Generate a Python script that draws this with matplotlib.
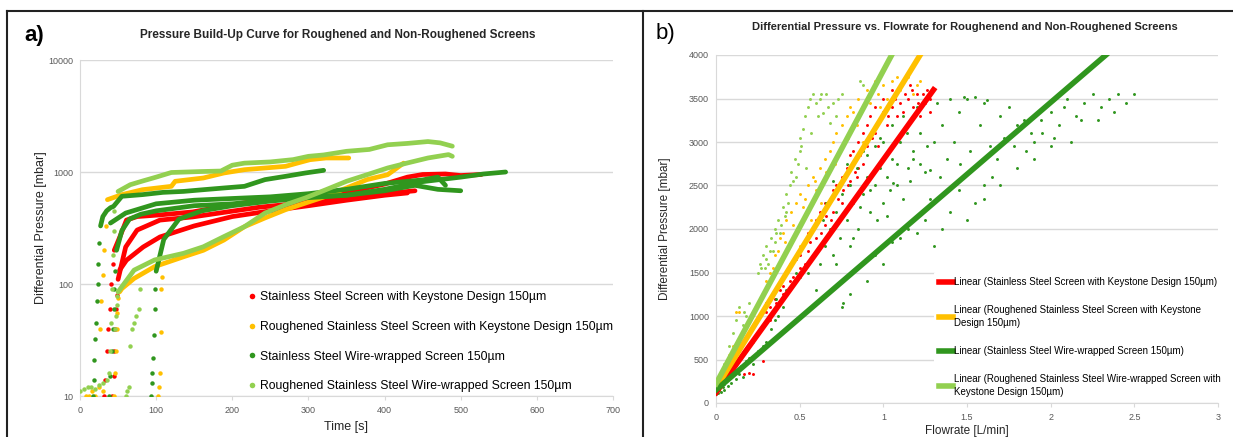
import matplotlib
matplotlib.use('Agg')
import matplotlib.pyplot as plt
from matplotlib.lines import Line2D
from matplotlib.ticker import FixedLocator, NullLocator

plt.rcParams['font.family'] = ['Liberation Sans', 'DejaVu Sans']

RED = '#FF0000'
ORANGE = '#FFC000'
DGREEN = '#30961E'
LGREEN = '#92D050'
GRID = '#D9D9D9'
TICK = '#595959'

# ---------------- panel a: pressure build-up (time [s], dp [mbar]) ----------------
# each run: steep rise (sparse dots) + build-up body
red1_rise_t = [31, 33, 35, 37, 39, 41, 43]
red1_rise_p = [10, 14, 25, 40, 60, 100, 150]
red1_t = [45, 52, 61, 75, 105, 148, 193, 236, 280, 320, 360, 400, 430, 450, 480, 500, 527]
red1_p = [200, 260, 372, 400, 414, 440, 500, 560, 590, 620, 680, 780, 900, 950, 960, 930, 950]

red2_rise_t = [42, 44, 45, 46, 47, 48]
red2_rise_p = [10, 15, 25, 40, 60, 80]
red2_t = [50, 60, 75, 105, 148, 193, 236, 280, 320, 360, 400, 440]
red2_p = [110, 214, 303, 372, 397, 440, 485, 520, 560, 600, 640, 680]

red3_t = [52, 61, 83, 105, 150, 200, 250, 300, 350, 400, 430]
red3_p = [133, 163, 214, 263, 330, 400, 450, 500, 560, 620, 650]

or1_base_t = [8, 12, 16, 20, 25, 30]
or1_base_p = [10, 10, 11, 10, 12, 11]
or1_rise_t = [26, 28, 30, 32, 34]
or1_rise_p = [40, 70, 120, 200, 330]
or1_t = [36, 55, 82, 120, 125, 162, 189, 216, 243, 270, 286, 302, 323, 353]
or1_p = [566, 628, 695, 745, 826, 884, 980, 1049, 1086, 1124, 1204, 1288, 1334, 1334]

or2_rise_t = [44, 46, 47, 48, 49, 50]
or2_rise_p = [10, 16, 25, 40, 55, 75]
or2_t = [52, 55, 71, 98, 136, 162, 189, 216, 243, 270, 323, 377, 404, 425]
or2_p = [85, 91, 112, 143, 175, 200, 247, 325, 389, 461, 607, 855, 946, 1200]

or3_rise_t = [103, 104, 105, 106, 107, 108]
or3_rise_p = [10, 12, 16, 37, 90, 116]

dg1_rise_t = [17, 18, 19, 20, 21, 22, 23, 24, 25]
dg1_rise_p = [10, 14, 21, 32, 45, 70, 100, 150, 230]
dg1_t = [27, 30, 35, 40, 44, 55, 82, 109, 136, 162, 189, 216, 243, 270, 296, 320]
dg1_p = [330, 400, 450, 480, 493, 607, 628, 658, 671, 695, 720, 745, 855, 915, 980, 1035]

dg2_rise_t = [38, 40, 42, 43, 44, 45, 46]
dg2_rise_p = [10, 15, 25, 40, 60, 90, 130]
dg2_t = [48, 55, 65, 80, 100, 150, 200, 250, 300, 350, 400, 450, 500, 530, 559]
dg2_p = [200, 300, 380, 420, 450, 500, 520, 560, 600, 620, 700, 820, 900, 960, 1000]

dg3_rise_t = [93, 94, 95, 96, 97, 98, 99]
dg3_rise_p = [10, 13, 16, 22, 35, 60, 90]
dg3_t = [100, 110, 130, 160, 200, 250, 300, 350, 400, 440, 470, 500]
dg3_p = [130, 250, 380, 450, 500, 550, 590, 620, 680, 760, 700, 680]

dg4_t = [40, 60, 100, 150, 200, 250, 300, 350, 400, 450, 470, 480]
dg4_p = [350, 430, 520, 560, 580, 600, 640, 700, 790, 850, 900, 760]

lg1_base_t = [0, 5, 10, 15, 20, 25, 30, 35, 38]
lg1_base_p = [11, 11.5, 12, 12, 11.5, 12.5, 13, 14, 16]
lg1_rise_t = [40, 41, 42, 43, 44, 45]
lg1_rise_p = [25, 45, 90, 180, 300, 450]
lg1_t = [50, 66, 82, 100, 120, 160, 185, 200, 216, 250, 280, 300, 320, 350, 380, 404, 430, 457, 473, 489]
lg1_p = [670, 770, 830, 900, 990, 1010, 1020, 1150, 1200, 1230, 1290, 1380, 1420, 1530, 1590, 1750, 1800, 1870, 1820, 1700]

lg2_rise_t = [46, 47, 48, 49]
lg2_rise_p = [40, 52, 65, 78]
lg2_t = [50, 71, 98, 136, 162, 189, 216, 243, 270, 296, 323, 350, 377, 404, 430, 457, 484, 489]
lg2_p = [85, 133, 164, 188, 215, 265, 325, 430, 510, 587, 695, 826, 946, 1086, 1204, 1334, 1430, 1380]

lg3_rise_t = [60, 62, 64, 66, 68, 71, 74, 77, 79]
lg3_rise_p = [10, 11, 12, 28, 40, 45, 52, 60, 91]

legend_a = ['Stainless Steel Screen with Keystone Design 150µm',
            'Roughened Stainless Steel Screen with Keystone Design 150µm',
            'Stainless Steel Wire-wrapped Screen 150µm',
            'Roughened Stainless Steel Wire-wrapped Screen 150µm']

# ---------------- panel b: dp vs flowrate ----------------
red_q = [0.02, 0.05, 0.08, 0.10, 0.17, 0.20, 0.22, 0.28, 0.30, 0.32, 0.35, 0.38, 0.40, 0.42,
         0.45, 0.48, 0.50, 0.52, 0.55, 0.55, 0.58, 0.60, 0.60, 0.62, 0.65, 0.65, 0.68, 0.70,
         0.70, 0.72, 0.75, 0.75, 0.78, 0.80, 0.80, 0.82, 0.85, 0.85, 0.88, 0.90, 0.90, 0.92,
         0.95, 0.95, 0.98, 1.00, 1.00, 1.02, 1.05, 1.05, 1.08, 1.10, 1.10, 1.12, 1.15, 1.18,
         1.20, 1.22, 1.25, 1.28, 0.84, 0.88, 0.97, 1.16, 1.24,
         0.32, 0.36, 0.40, 0.44, 0.46, 0.50, 0.53, 0.56, 0.63, 0.66, 0.69, 0.73, 0.76, 0.79,
         0.83, 0.86, 0.93, 0.96, 1.03, 1.07, 1.13, 1.17, 1.21, 1.26, 1.28]
red_p = [150, 250, 400, 450, 330, 350, 330, 480, 1050, 1100, 1200, 1300, 1350, 1500,
         1600, 1650, 1700, 1800, 1750, 1950, 2000, 1900, 2100, 2200, 2050, 2300, 2350, 2200,
         2450, 2500, 2600, 2300, 2700, 2550, 2850, 2900, 2700, 3000, 3100, 2950, 3200, 3300,
         3100, 3400, 3250, 3350, 3500, 3200, 3400, 3600, 3300, 3450, 3650, 3350, 3500, 3400,
         3550, 3300, 3450, 3350, 2600, 2750, 2950, 3650, 3550,
         950, 1150, 1250, 1400, 1450, 1550, 1600, 1850, 1950, 2150, 2100, 2350, 2450, 2500,
         2650, 2850, 3050, 3200, 3300, 3500, 3550, 3600, 3450, 3600, 3500]

or_q = [0.05, 0.08, 0.10, 0.12, 0.14, 0.30, 0.32, 0.35, 0.38, 0.40, 0.42, 0.45, 0.48, 0.50,
        0.52, 0.55, 0.58, 0.60, 0.62, 0.65, 0.68, 0.70, 0.72, 0.75, 0.78, 0.80, 0.82, 0.85,
        0.90, 0.95, 1.00, 1.05, 1.10, 1.15, 1.20, 0.44, 0.50, 0.57, 0.63, 0.88, 0.98, 1.22,
        0.34, 0.37, 0.41, 0.46, 0.53, 0.59, 0.66, 0.71, 0.74, 0.79, 0.84, 0.92, 0.97, 1.02,
        1.08, 1.18]
or_p = [350, 550, 650, 1050, 1050, 1400, 1500, 1700, 1900, 1950, 2100, 2200, 2300, 2400,
        2250, 2500, 2600, 2450, 2700, 2800, 2900, 3000, 3100, 3200, 3300, 3400, 3350, 3500,
        3600, 3700, 3650, 3700, 3600, 3750, 3650, 1600, 1800, 2100, 2300, 3000, 3400, 3700,
        1550, 1750, 1850, 2050, 2350, 2550, 2650, 2750, 2900, 3050, 3200, 3450, 3550, 3500,
        3750, 3550]

lg_q = [0.02, 0.05, 0.08, 0.10, 0.14, 0.16, 0.18, 0.20, 0.22, 0.25, 0.26, 0.27, 0.28, 0.30,
        0.30, 0.32, 0.33, 0.35, 0.35, 0.37, 0.38, 0.40, 0.42, 0.42, 0.44, 0.45, 0.47, 0.48,
        0.50, 0.50, 0.52, 0.53, 0.55, 0.56, 0.58, 0.60, 0.62, 0.64, 0.66, 0.68, 0.70, 0.72,
        0.75, 0.86, 0.88, 0.54,
        0.29, 0.31, 0.34, 0.36, 0.39, 0.41, 0.43, 0.46, 0.49, 0.51, 0.57, 0.61, 0.63, 0.67,
        0.73, 0.12, 0.17]
lg_p = [300, 450, 650, 800, 1100, 900, 1000, 1150, 700, 1500, 1600, 1550, 1700, 1650,
        1800, 1750, 1900, 1850, 2000, 2100, 1950, 2250, 2400, 2200, 2500, 2650, 2800, 2600,
        2900, 3050, 3150, 3300, 3400, 3500, 3550, 3450, 3500, 3330, 3550, 3220, 3450, 3300,
        3550, 3700, 3650, 2700,
        1550, 1600, 1750, 1950, 2050, 2150, 2300, 2550, 2750, 2950, 3100, 3300, 3550, 3400,
        3500, 950, 1050]

dg_q = [0.00, 0.01, 0.02, 0.02, 0.03, 0.03, 0.04, 0.05, 0.06, 0.08, 0.10, 0.12, 0.15, 0.18,
        0.20, 0.22, 0.25, 0.28, 0.30, 0.33, 0.35, 0.37, 0.40, 0.42, 0.45, 0.48, 0.50, 0.36,
        0.30, 0.62, 0.65, 0.68, 0.70, 0.72, 0.74, 0.75, 0.78, 0.80, 0.80, 0.82, 0.84, 0.85,
        0.88, 0.90, 0.90, 0.92, 0.95, 0.95, 0.98, 1.00, 1.00, 1.02, 1.05, 1.05, 1.08, 1.10,
        1.12, 1.15, 1.18, 1.20, 1.22, 1.25, 1.30, 1.32, 1.35, 1.40, 1.45, 1.50, 1.55, 1.60,
        1.48, 1.62, 0.76, 0.85, 0.90, 0.95, 1.00, 1.05, 1.10, 1.15, 1.20, 1.25, 0.75, 0.80,
        1.60, 1.65, 1.70, 1.75, 1.80, 1.85, 1.90, 1.95, 2.00, 2.05, 2.10, 2.15, 2.20, 2.25,
        2.30, 2.35, 2.40, 2.45, 2.50, 2.00, 1.90, 1.80, 1.70, 1.60, 1.50, 1.55, 1.45, 1.40,
        1.35, 1.30, 1.06, 1.18, 1.28, 2.12, 2.28, 2.38,
        0.55, 0.58, 0.60, 0.64, 0.66, 0.70, 0.72, 0.78, 0.82, 0.86, 0.88, 0.92, 0.96, 0.98,
        1.02, 1.04, 1.08, 1.12, 1.14, 1.16, 1.22, 1.26, 1.28, 1.34, 1.38, 1.42, 1.46, 1.52,
        1.58, 1.64, 1.68, 1.72, 1.78, 1.84, 1.88, 1.94, 2.02, 2.08, 2.18, 0.05, 0.07, 0.09,
        0.12, 0.14, 0.16]
dg_p = [100, 120, 150, 200, 130, 250, 180, 220, 260, 300, 330, 380, 420, 480,
        520, 450, 600, 650, 700, 850, 950, 1000, 1100, 1300, 1350, 1500, 1450, 1200,
        1150, 1600, 1800, 2000, 1700, 2200, 1900, 2400, 2100, 1800, 2500, 2300, 2700, 2000,
        2400, 2600, 2850, 2200, 2500, 2950, 2700, 2300, 3000, 2600, 2800, 3200, 2500, 3000,
        3300, 2700, 2900, 3400, 3100, 2650, 3000, 3450, 3200, 3500, 3350, 3500, 3520, 3450,
        3520, 3480, 1150, 1550, 1400, 1700, 1600, 1850, 1900, 2000, 1950, 2100, 1100, 1250,
        2500, 2600, 3300, 3400, 3200, 2900, 3000, 3100, 3350, 3200, 3500, 3300, 3450, 3550,
        3400, 3500, 3550, 3450, 3550, 2950, 2800, 2700, 2500, 2350, 2100, 2300, 2450, 2200,
        2000, 1800, 2530, 2800, 2680, 3000, 3250, 3350,
        1500, 1700, 1300, 2100, 2300, 2550, 1600, 2750, 1900, 2250, 2900, 2450, 2100, 3050,
        2150, 2450, 2750, 2350, 3100, 2550, 2750, 2950, 2350, 2600, 2800, 3000, 2750, 2900,
        3200, 2950, 2800, 3050, 2950, 3250, 3100, 3250, 3050, 3400, 3250, 150, 200, 230,
        280, 330, 300]

# linear trend lines (end points)
red_fit_q = [0.0, 1.30]
red_fit_p = [120, 3600]
or_fit_q = [0.0, 1.22]
or_fit_p = [170, 4000]
dg_fit_q = [0.0, 2.33]
dg_fit_p = [150, 4000]
lg_fit_q = [0.0, 1.05]
lg_fit_p = [220, 4000]

legend_b = ['Linear (Stainless Steel Screen with Keystone Design 150µm)',
            'Linear (Roughened Stainless Steel Screen with Keystone\nDesign 150µm)',
            'Linear (Stainless Steel Wire-wrapped Screen 150µm)',
            'Linear (Roughened Stainless Steel Wire-wrapped Screen with\nKeystone Design 150µm)']

fig = plt.figure(figsize=(12.33, 4.37), dpi=100)

# frame lines around the two panels
fig.add_artist(Line2D([7/1233, 7/1233], [0, 1 - 11/437], color='#222222', lw=1.5))
fig.add_artist(Line2D([7/1233, 1], [1 - 11/437, 1 - 11/437], color='#222222', lw=1.5))
fig.add_artist(Line2D([643/1233, 643/1233], [0, 1 - 11/437], color='#222222', lw=1.5))

ax1 = fig.add_axes([80/1233, 1 - 396/437, 533/1233, 336/437])
ax2 = fig.add_axes([716/1233, 1 - 403/437, 502/1233, 348/437])

# ---- panel a ----
runs = [
    (RED, red1_rise_t, red1_rise_p, red1_t, red1_p),
    (RED, red2_rise_t, red2_rise_p, red2_t, red2_p),
    (RED, [], [], red3_t, red3_p),
    (ORANGE, or1_base_t + or1_rise_t, or1_base_p + or1_rise_p, or1_t, or1_p),
    (ORANGE, or2_rise_t, or2_rise_p, or2_t, or2_p),
    (ORANGE, or3_rise_t, or3_rise_p, [], []),
    (DGREEN, dg1_rise_t, dg1_rise_p, dg1_t, dg1_p),
    (DGREEN, dg2_rise_t, dg2_rise_p, dg2_t, dg2_p),
    (DGREEN, dg3_rise_t, dg3_rise_p, dg3_t, dg3_p),
    (DGREEN, [], [], dg4_t, dg4_p),
    (LGREEN, lg1_base_t + lg1_rise_t, lg1_base_p + lg1_rise_p, lg1_t, lg1_p),
    (LGREEN, lg2_rise_t, lg2_rise_p, lg2_t, lg2_p),
    (LGREEN, lg3_rise_t, lg3_rise_p, [], []),
]
for color, rt, rp, bt, bp in runs:
    if rt:
        ax1.plot(rt, rp, 'o', color=color, ms=3.2, mew=0, zorder=3)
    if bt:
        ax1.plot(bt, bp, '-', color=color, lw=3.4, solid_capstyle='round', zorder=3)

ax1.set_yscale('log')
ax1.set_xlim(0, 700)
ax1.set_ylim(10, 10000)
ax1.yaxis.set_major_locator(FixedLocator([10, 100, 1000, 10000]))
ax1.yaxis.set_minor_locator(NullLocator())
ax1.set_yticklabels(['10', '100', '1000', '10000'])
ax1.set_xticks(range(0, 701, 100))
ax1.grid(axis='y', color=GRID, lw=1)
ax1.set_axisbelow(True)
ax1.set_xlabel('Time [s]', fontsize=9, color='#262626')
ax1.set_ylabel('Differential Pressure [mbar]', fontsize=9, color='#262626')
ax1.xaxis.set_label_coords(0.5, -0.075)
ax1.yaxis.set_label_coords(-0.062, 0.5)

handles_a = [Line2D([], [], ls='none', marker='o', ms=4, mew=0, color=c)
             for c in [RED, ORANGE, DGREEN, LGREEN]]
ax1.legend(handles_a, legend_a, loc='upper left', bbox_to_anchor=(0.305, 0.33),
           frameon=False, fontsize=8.8, handlelength=0.6, handletextpad=0.35,
           labelspacing=1.45, borderpad=0)

# ---- panel b ----
ax2.scatter(red_q, red_p, s=4.5, color=RED, lw=0, zorder=2)
ax2.scatter(or_q, or_p, s=4.5, color=ORANGE, lw=0, zorder=2)
ax2.scatter(dg_q, dg_p, s=4.5, color=DGREEN, lw=0, zorder=2)
ax2.scatter(lg_q, lg_p, s=4.5, color=LGREEN, lw=0, zorder=2)

ax2.plot(red_fit_q, red_fit_p, color=RED, lw=4, zorder=3, label=legend_b[0])
ax2.plot(or_fit_q, or_fit_p, color=ORANGE, lw=4, zorder=3, label=legend_b[1])
ax2.plot(dg_fit_q, dg_fit_p, color=DGREEN, lw=4, zorder=3, label=legend_b[2])
ax2.plot(lg_fit_q, lg_fit_p, color=LGREEN, lw=4, zorder=3, label=legend_b[3])

ax2.set_xlim(0, 3)
ax2.set_ylim(0, 4000)
ax2.set_xticks([0, 0.5, 1, 1.5, 2, 2.5, 3])
ax2.set_xticklabels(['0', '0.5', '1', '1.5', '2', '2.5', '3'])
ax2.set_yticks(range(0, 4001, 500))
ax2.grid(axis='y', color=GRID, lw=1)
ax2.set_axisbelow(True)
ax2.set_xlabel('Flowrate [L/min]', fontsize=8.5, color='#262626')
ax2.set_ylabel('Differential Pressure [mbar]', fontsize=8.5, color='#262626')
ax2.xaxis.set_label_coords(0.5, -0.062)
ax2.yaxis.set_label_coords(-0.09, 0.5)
leg = ax2.legend(loc='upper left', bbox_to_anchor=(0.425, 0.39), fontsize=7.0,
                 frameon=True, facecolor='white', edgecolor='none', framealpha=1,
                 handlelength=1.4, handletextpad=0.1, labelspacing=1.85, borderpad=0.5)
for txt in leg.get_texts():
    txt.set_linespacing(1.4)
leg.set_zorder(5)

for ax in (ax1, ax2):
    for side in ('top', 'right'):
        ax.spines[side].set_visible(False)
    for side in ('left', 'bottom'):
        ax.spines[side].set_color(GRID)
    ax.tick_params(axis='y', length=0, labelsize=6.5, labelcolor=TICK, pad=5)
    ax.tick_params(axis='x', length=3, color=GRID, labelsize=6.5, labelcolor=TICK, pad=4)

# titles and panel letters
fig.text(338/1233, 1 - 35/437, 'Pressure Build-Up Curve for Roughened and Non-Roughened Screens',
         ha='center', va='center', fontsize=8.5, fontweight='bold', color='#262626')
fig.text(965/1233, 1 - 27/437, 'Differential Pressure vs. Flowrate for Roughenend and Non-Roughened Screens',
         ha='center', va='center', fontsize=8, fontweight='bold', color='#262626')
fig.text(24/1233, 1 - 35/437, 'a)', ha='left', va='center', fontsize=16, fontweight='bold')
fig.text(656/1233, 1 - 33/437, 'b)', ha='left', va='center', fontsize=16)

fig.savefig('out.png', dpi=100)
